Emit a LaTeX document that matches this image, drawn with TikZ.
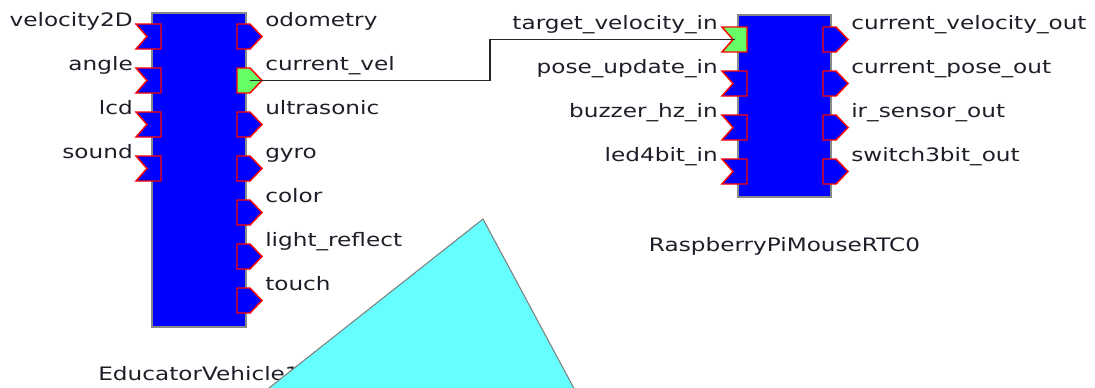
\documentclass[tikz,border=0pt]{standalone}
\usepackage{fontspec}
\newfontfamily\uifont[FakeStretch=1.25]{DejaVu Sans}
\definecolor{blockblue}{RGB}{0,0,255}
\definecolor{livegreen}{RGB}{102,255,102}
\definecolor{noteCyan}{RGB}{102,255,255}
\definecolor{edgegray}{RGB}{136,136,136}
\definecolor{labeltext}{RGB}{30,30,40}

\begin{document}
\begin{tikzpicture}[x=0.75pt,y=-0.75pt,
  block/.style={draw=edgegray, line width=1.5pt, fill=blockblue, inner sep=0pt, outer sep=0pt, anchor=north west},
  portfill/.store in=\portfillcolor, portfill=blockblue,
  portedge/.style={draw=red, line width=1.1pt, fill=\portfillcolor, line join=miter},
  inport/.pic={\path[portedge] (0,0) -- (25,0) -- (25,25) -- (0,25) -- (11,12.5) -- cycle;},
  outport/.pic={\path[portedge] (0,0) -- (13,0) -- (25,12.5) -- (13,25) -- (0,25) -- cycle;},
  lbl/.style={font=\uifont\fontsize{13.9pt}{16pt}\selectfont, text=labeltext, inner sep=0pt},
  inlbl/.style={lbl, anchor=base east},
  outlbl/.style={lbl, anchor=base west},
  namelbl/.style={lbl, anchor=base},
  wire/.style={draw=black!85, line width=1.2pt},
]
\useasboundingbox (0,0) rectangle (1095,387);

% ---- EducatorVehicle1 component ----
\node[block, minimum width=70.5pt, minimum height=235.5pt] (ev) at (152,13) {};
\foreach \i/\t in {1/24, 2/68, 3/112, 4/156}
  \pic (ev-in\i) at (136,\t) {inport};
\foreach \i/\t in {1/24, 3/112, 4/156, 5/200, 6/244, 7/288}
  \pic (ev-out\i) at (237,\t) {outport};
\pic[portfill=livegreen] (ev-out2) at (237,68) {outport};

\node[inlbl] (ev-l-vel) at (133,26.5) {velocity2D};
\node[inlbl] (ev-l-ang) at (133,70.5) {angle};
\node[inlbl] (ev-l-lcd) at (133,114.5) {lcd};
\node[inlbl] (ev-l-snd) at (133,158.5) {sound};
\node[outlbl] (ev-l-odo) at (265,26.5) {odometry};
\node[outlbl] (ev-l-cv) at (265,70.5) {current\_vel};
\node[outlbl] (ev-l-us) at (265,114.5) {ultrasonic};
\node[outlbl] (ev-l-gyro) at (265,158.5) {gyro};
\node[outlbl] (ev-l-col) at (265,202.5) {color};
\node[outlbl] (ev-l-lr) at (265,246.5) {light\_reflect};
\node[outlbl] (ev-l-touch) at (265,290.5) {touch};
\node[namelbl] (ev-name) at (199,380) {EducatorVehicle1};

% ---- RaspberryPiMouseRTC0 component ----
\node[block, minimum width=69.75pt, minimum height=136.5pt] (rp) at (738,15) {};
\pic[portfill=livegreen] (rp-in1) at (722,27) {inport};
\foreach \i/\t in {2/71, 3/115, 4/159}
  \pic (rp-in\i) at (722,\t) {inport};
\foreach \i/\t in {1/27, 2/71, 3/115, 4/159}
  \pic (rp-out\i) at (823,\t) {outport};

\node[inlbl] (rp-l-tv) at (718,29.5) {target\_velocity\_in};
\node[inlbl] (rp-l-pu) at (718,73.5) {pose\_update\_in};
\node[inlbl] (rp-l-bz) at (718,117.5) {buzzer\_hz\_in};
\node[inlbl] (rp-l-led) at (718,161.5) {led4bit\_in};
\node[outlbl] (rp-l-cvo) at (851,29.5) {current\_velocity\_out};
\node[outlbl] (rp-l-cpo) at (851,73.5) {current\_pose\_out};
\node[outlbl] (rp-l-ir) at (851,117.5) {ir\_sensor\_out};
\node[outlbl] (rp-l-sw) at (851,161.5) {switch3bit\_out};
\node[namelbl] (rp-name) at (784.5,251) {RaspberryPiMouseRTC0};

% ---- data port connection ----
\coordinate (ev-cv) at (250,80.5);
\coordinate (rp-tv) at (735,39.5);
\coordinate (bend) at (490,0);
\draw[wire] (ev-cv) -- (ev-cv -| bend) |- (rp-tv);

% ---- cyan triangle shape on top ----
\begin{scope}
  \clip (0,0) rectangle (1095,387);
  \filldraw[fill=noteCyan, draw=gray, line width=0.8pt]
    (483,219) -- (584,407) -- (245,407) -- cycle;
\end{scope}
\end{tikzpicture}
\end{document}
